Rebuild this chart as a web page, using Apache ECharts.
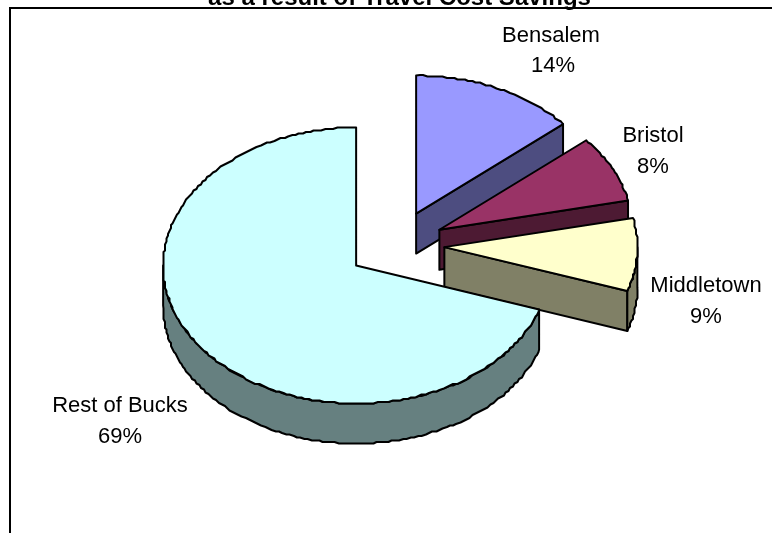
<!DOCTYPE html>
<html><head><meta charset="utf-8">
<style>html,body{margin:0;padding:0;background:#fff}#c{width:772px;height:533px}</style>
<script src="https://cdn.jsdelivr.net/npm/echarts@6/dist/echarts.min.js"></script>
</head><body><div id="c"></div>
<script>
const categories = ['Bensalem', 'Bristol', 'Middletown', 'Rest of Bucks'];
const shares = [13.7, 7.8, 8.5, 69.49];
const topColors = ['#9999FF', '#993366', '#FFFFCC', '#CCFFFF'];
const wallColors = ['#4D4D80', '#4D1A33', '#808066', '#668080'];
const labelCentres = [[551, 36], [653, 136], [706, 286], [120, 406]];
const valueLabelShift = [[2, 30], [0, 31], [0, 31], [0, 31]];
const titleText = 'as a result of Travel Cost Savings';

const pie = { cx: 395.7, cy: 245.2, rx: 193, ry: 138, depth: 40, explode: 0.2525, grid: 1.5 };
const total = shares.reduce((a, b) => a + b, 0);
const snap = v => Math.round(v / pie.grid) * pie.grid;

function renderSlice(params, api) {
  const i = params.dataIndex;
  const before = shares.slice(0, i).reduce((a, b) => a + b, 0);
  const a0 = before / total * 2 * Math.PI;
  const a1 = i === shares.length - 1 ? 2 * Math.PI : a0 + api.value(1) / total * 2 * Math.PI;
  const mid = (a0 + a1) / 2;
  const ox = pie.cx + pie.explode * pie.rx * Math.sin(mid);
  const oy = pie.cy - pie.explode * pie.ry * Math.cos(mid);
  const at = t => [ox + pie.rx * Math.sin(t), oy - pie.ry * Math.cos(t)];
  const arc = (s, e) => {
    const n = Math.max(2, Math.ceil((e - s) / 0.02));
    const pts = [];
    for (let k = 0; k <= n; k++) {
      const p = at(s + (e - s) * k / n);
      pts.push(k === 0 || k === n ? p : [snap(p[0]), snap(p[1])]);
    }
    return pts;
  };
  const down = p => [p[0], p[1] + pie.depth];
  const line = { stroke: '#000', lineWidth: 2, lineJoin: 'round' };
  const face = (pts, fill) => ({ type: 'polygon', shape: { points: pts }, style: Object.assign({ fill }, line) });
  const kids = [];
  const apex = [ox, oy];
  // radial walls that face the viewer
  if (Math.sin(a1) > 0.01) kids.push(face([apex, at(a1), down(at(a1)), down(apex)], wallColors[i]));
  if (Math.sin(a0) < -0.01) kids.push(face([apex, at(a0), down(at(a0)), down(apex)], wallColors[i]));
  // outer rim: the part of the edge on the viewer's side
  const rs = Math.max(a0, Math.PI / 2), re = Math.min(a1, 3 * Math.PI / 2);
  if (re > rs) {
    const rim = arc(rs, re);
    kids.push(face(rim.concat(rim.slice().reverse().map(down)), wallColors[i]));
  }
  kids.push(face([apex].concat(arc(a0, a1)), topColors[i]));
  // label
  const lc = labelCentres[i], vs = valueLabelShift[i];
  const txt = (t, x, y) => ({
    type: 'text', x, y,
    style: { text: t, fill: '#000', font: '22px "Liberation Sans"', align: 'center', verticalAlign: 'middle' }
  });
  kids.push(txt(categories[i], lc[0], lc[1]));
  kids.push(txt(Math.round(api.value(1)) + '%', lc[0] + vs[0], lc[1] + vs[1]));
  return { type: 'group', children: kids };
}

const chart = echarts.init(document.getElementById('c'), null, { renderer: 'canvas' });
chart.setOption({
  animation: false,
  backgroundColor: '#fff',
  graphic: [
    { type: 'text', silent: true, z: 1, x: 399.5, y: -2, style: { text: titleText, fill: '#000', font: 'bold 24px "Liberation Sans"', align: 'center', verticalAlign: 'middle' } },
    { type: 'polyline', silent: true, z: 2, shape: { points: [[10, 540], [10, 8], [780, 8]] }, style: { stroke: '#000', lineWidth: 2, fill: null } }
  ],
  series: [{
    type: 'custom',
    coordinateSystem: 'none',
    silent: true,
    renderItem: renderSlice,
    data: shares.map((v, i) => [i, v])
  }]
});
</script></body></html>
